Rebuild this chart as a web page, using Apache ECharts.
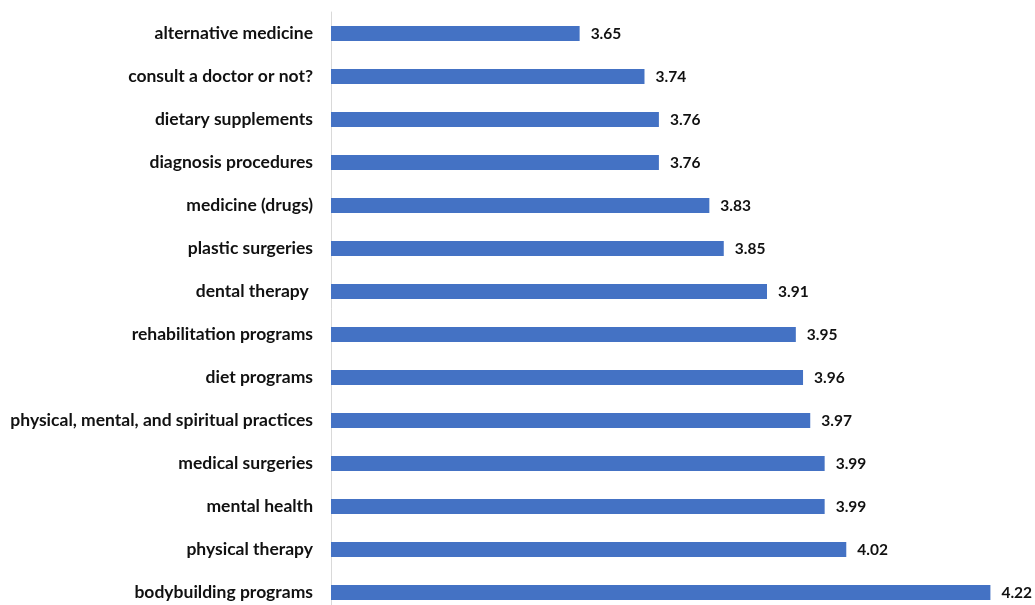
<!DOCTYPE html>
<html>
<head>
<meta charset="utf-8">
<script src="https://cdn.jsdelivr.net/npm/echarts@6/dist/echarts.min.js"></script>
<style>
  html, body { margin: 0; padding: 0; background: #ffffff; }
  #chart { width: 1035px; height: 605px; }
</style>
</head>
<body>
<div id="chart"></div>
<script>
// Categories, top to bottom
const categories = [
  'alternative medicine',
  'consult a doctor or not?',
  'dietary supplements',
  'diagnosis procedures',
  'medicine (drugs)',
  'plastic surgeries',
  'dental therapy ',
  'rehabilitation programs',
  'diet programs',
  'physical, mental, and spiritual practices',
  'medical surgeries',
  'mental health',
  'physical therapy',
  'bodybuilding programs'
];

// Mean score per category
const scores = [3.65, 3.74, 3.76, 3.76, 3.83, 3.85, 3.91, 3.95, 3.96, 3.97, 3.99, 3.99, 4.02, 4.22];

const chart = echarts.init(document.getElementById('chart'), null, { renderer: 'canvas' });

chart.setOption({
  animation: false,
  backgroundColor: '#ffffff',
  // the last row runs slightly past the bottom edge of the canvas
  grid: { left: 331, width: 694, top: 12, height: 602, containLabel: false, outerBoundsMode: 'none' },
  xAxis: {
    type: 'value',
    min: 3.305,
    max: 4.268,
    show: false
  },
  yAxis: {
    type: 'category',
    data: categories,
    inverse: true,
    axisLine: { show: true, lineStyle: { color: '#d9d9d9', width: 1 } },
    axisTick: { show: false },
    axisLabel: {
      margin: 18,
      color: '#111111',
      fontFamily: 'Lato',
      fontWeight: 'bold',
      fontSize: 17.5
    }
  },
  series: [{
    type: 'bar',
    data: scores,
    barWidth: 15,
    itemStyle: { color: '#4472C4' },
    label: {
      show: true,
      position: 'right',
      distance: 11,
      color: '#111111',
      fontFamily: 'Lato',
      fontWeight: 'bold',
      fontSize: 15.5,
      formatter: p => p.value.toFixed(2)
    }
  }]
});
</script>
</body>
</html>
